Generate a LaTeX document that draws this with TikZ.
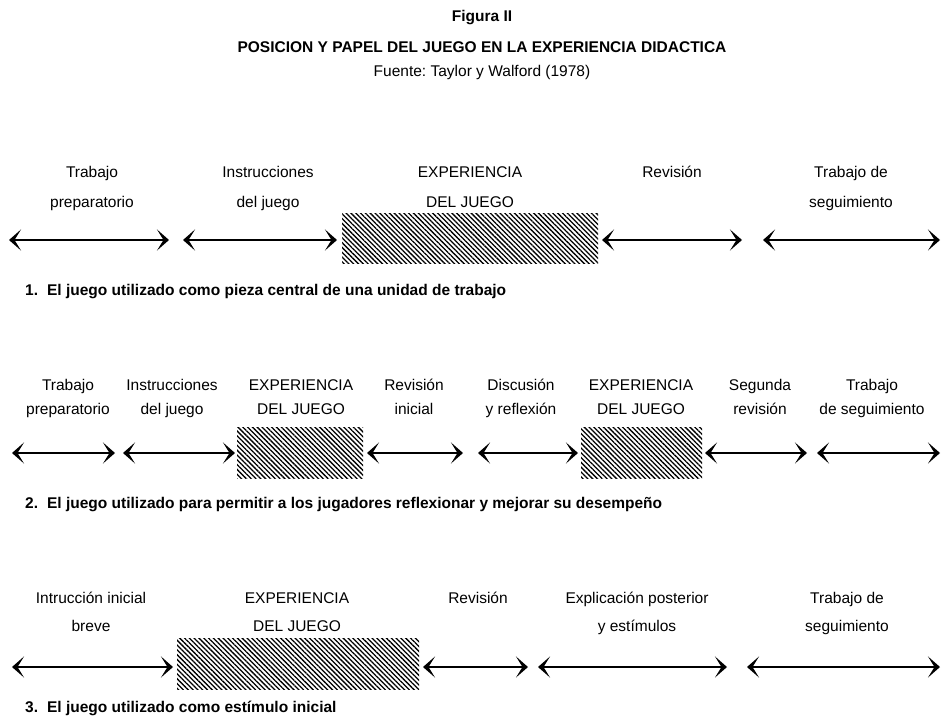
\documentclass[tikz,border=0pt]{standalone}
\usepackage{fontspec}
\setmainfont{Liberation Sans}
\usetikzlibrary{arrows.meta,patterns.meta}
\frenchspacing
\tikzset{font=\fontsize{15.5}{18}\selectfont}
\tikzset{span/.style={line width=2.6pt,
    {Stealth[length=12pt,width=21pt,inset=6.5pt]}-{Stealth[length=12pt,width=21pt,inset=6.5pt]}}}
\tikzset{juego/.style={pattern={Lines[angle=-45,distance=3.4pt,line width=1.3pt]}}}
\tikzset{etapa/.style={align=center, inner sep=0pt, anchor=north,
    font=\fontsize{15.5}{#1}\selectfont}, etapa/.default=29}
\tikzset{pie/.style={anchor=west, inner sep=0pt,
    font=\fontsize{15.5}{18}\selectfont\bfseries}}

\begin{document}
\begin{tikzpicture}[x=1pt,y=-1pt]
  \useasboundingbox (0,0) rectangle (942,718);
  \node (fig) at (482,18) {\bfseries Figura II};
  \node (tit) at (482,47) {\bfseries POSICION Y PAPEL DEL JUEGO EN LA EXPERIENCIA DIDACTICA};
  \node (fue) at (482,72) {Fuente: Taylor y Walford (1978)};

  \node[etapa=30] (prep1) at (92,166) {Trabajo\\preparatorio};
  \node[etapa=30] (inst1) at (268,166) {Instrucciones\\del juego};
  \node[etapa=30] (exp1) at (470,166) {EXPERIENCIA\\DEL JUEGO};
  \node[etapa=30] (rev1) at (672,166) {Revisión};
  \node[etapa=30] (seg1) at (851,166) {Trabajo de\\seguimiento};
  \path[juego] (342,213) rectangle (598,263);
  \foreach \n/\xa/\xb in {a/9/169, b/183/337, c/602/742, d/763/940}{
    \coordinate (u\n-l) at (\xa,240);
    \coordinate (u\n-r) at (\xb,240);
    \draw[span] (u\n-l) -- (u\n-r);
  }
  \node[pie] (pie1) at (25,292) {1.\hspace{9pt}El juego utilizado como pieza central de una unidad de trabajo};

  \node[etapa=24] (prep2) at (68,379) {Trabajo\\preparatorio};
  \node[etapa=24] (inst2) at (172,379) {Instrucciones\\del juego};
  \node[etapa=24] (exp2a) at (301,379) {EXPERIENCIA\\DEL JUEGO};
  \node[etapa=24] (rev2a) at (414,379) {Revisión\\inicial};
  \node[etapa=24] (disc2) at (521,379) {Discusión\\y reflexión};
  \node[etapa=24] (exp2b) at (641,379) {EXPERIENCIA\\DEL JUEGO};
  \node[etapa=24] (rev2b) at (760,379) {Segunda\\revisión};
  \node[etapa=24] (seg2) at (872,379) {Trabajo\\de seguimiento};
  \path[juego] (237,427) rectangle (363,478);
  \path[juego] (581,427) rectangle (702,478);
  \foreach \n/\xa/\xb in {a/12/115, b/123/235, c/367/463, d/478/578, e/705/807, f/817/940}{
    \coordinate (v\n-l) at (\xa,453);
    \coordinate (v\n-r) at (\xb,453);
    \draw[span] (v\n-l) -- (v\n-r);
  }
  \node[pie] (pie2) at (25,505) {2.\hspace{9pt}El juego utilizado para permitir a los jugadores reflexionar y mejorar su desempeño};

  \node[etapa=28] (intr3) at (91,592) {Intrucción inicial\\breve};
  \node[etapa=28] (exp3) at (297,592) {EXPERIENCIA\\DEL JUEGO};
  \node[etapa=28] (rev3) at (478,592) {Revisión};
  \node[etapa=28] (expl3) at (637,592) {Explicación posterior\\y estímulos};
  \node[etapa=28] (seg3) at (847,592) {Trabajo de\\seguimiento};
  \path[juego] (177,638) rectangle (419,689);
  \foreach \n/\xa/\xb in {a/12/173, b/423/528, c/538/727, d/747/940}{
    \coordinate (w\n-l) at (\xa,667);
    \coordinate (w\n-r) at (\xb,667);
    \draw[span] (w\n-l) -- (w\n-r);
  }
  \node[pie] (pie3) at (25,708) {3.\hspace{9pt}El juego utilizado como estímulo inicial};
\end{tikzpicture}
\end{document}
